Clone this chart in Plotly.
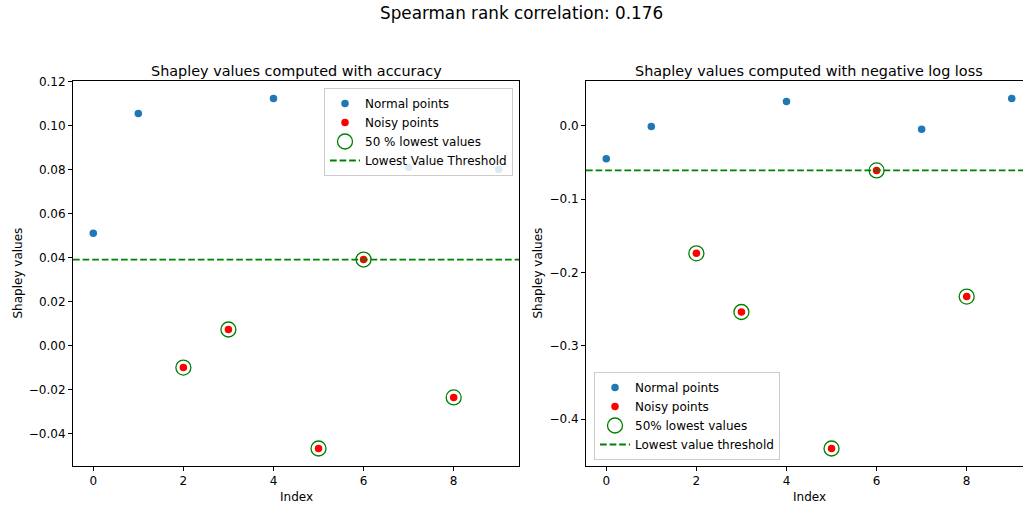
import plotly.graph_objects as go

# ---------------- data ----------------
index = [0, 1, 2, 3, 4, 5, 6, 7, 8, 9]
noisy_idx = [2, 3, 5, 6, 8]
acc_values = [0.051, 0.1055, -0.010, 0.0073, 0.1123, -0.0468, 0.0391, 0.0809, -0.0236, 0.080]
nll_values = [-0.045, -0.001, -0.174, -0.254, 0.033, -0.440, -0.061, -0.005, -0.233, 0.037]
acc_threshold = 0.0391
nll_threshold = -0.061
x_ticks = [0, 2, 4, 6, 8]

suptitle = "Spearman rank correlation: 0.176"
titles = ["Shapley values computed with accuracy", "Shapley values computed with negative log loss"]
legend_labels = [
    ["Normal points", "Noisy points", "50 % lowest values", "Lowest Value Threshold"],
    ["Normal points", "Noisy points", "50% lowest values", "Lowest value threshold"],
]

# ---------------- layout geometry (page pixels) ----------------
PAGE_W, PAGE_H = 1023, 507
W, H = PAGE_W, PAGE_H
L, T, B = 73, 81, 466        # plot area edges in page pixels
PW, PH = PAGE_W - L, B - T
ax_w = 446
left_x0, right_x0 = 73, 586

def px(xp):
    return (xp - L) / PW

def py(yp):
    return (B - yp) / PH

FONT = "DejaVu Sans"
BLUE = "#1f77b4"
RED = "red"
GREEN = "green"
DASH = "6.7px,2.9px"

fig = go.Figure()

def lowest_half(vals):
    order = sorted(range(len(vals)), key=lambda i: vals[i])
    return sorted(order[: len(vals) // 2])

def add_panel(vals, thr, xa, ya, legend, labels):
    normal = [i for i in index if i not in noisy_idx]
    low = lowest_half(vals)
    fig.add_trace(go.Scatter(
        x=normal, y=[vals[i] for i in normal], mode="markers",
        marker=dict(color=BLUE, size=7.5, line=dict(width=0)),
        name=labels[0], xaxis=xa, yaxis=ya, legend=legend))
    fig.add_trace(go.Scatter(
        x=noisy_idx, y=[vals[i] for i in noisy_idx], mode="markers",
        marker=dict(color=RED, size=7.5, line=dict(width=0)),
        name=labels[1], xaxis=xa, yaxis=ya, legend=legend))
    fig.add_trace(go.Scatter(
        x=low, y=[vals[i] for i in low], mode="markers",
        marker=dict(symbol="circle-open", color=GREEN, size=15, line=dict(width=1.3, color=GREEN)),
        name=labels[2], xaxis=xa, yaxis=ya, legend=legend))
    fig.add_trace(go.Scatter(
        x=[None], y=[None], mode="lines",
        line=dict(color=GREEN, width=1.8, dash=DASH),
        name=labels[3], xaxis=xa, yaxis=ya, legend=legend))
    fig.add_shape(type="line", xref=f"{xa} domain", yref=ya,
                  x0=0, x1=1, y0=thr, y1=thr,
                  line=dict(color=GREEN, width=1.8, dash=DASH), layer="above")

add_panel(acc_values, acc_threshold, "x", "y", "legend", legend_labels[0])
add_panel(nll_values, nll_threshold, "x2", "y2", "legend2", legend_labels[1])

def yrange(vals):
    lo, hi = min(vals), max(vals)
    m = 0.05 * (hi - lo)
    return [lo - m, hi + m]

xlo = min(index) - 0.05 * (max(index) - min(index))
xhi = max(index) + 0.05 * (max(index) - min(index))
# right panel is cut by the page edge
right_visible = (PAGE_W - right_x0) / ax_w
xhi_right = xlo + (xhi - xlo) * right_visible

axis_common = dict(
    showgrid=False, zeroline=False, showline=True, linecolor="black", linewidth=1,
    ticks="outside", ticklen=4, tickwidth=1, tickcolor="black",
    tickfont=dict(family=FONT, size=12, color="black"),
)

fig.update_layout(
    width=W, height=H,
    margin=dict(l=L, r=0, t=T, b=PAGE_H - B, pad=0),
    paper_bgcolor="white", plot_bgcolor="white",
    font=dict(family=FONT, size=12, color="black"),
    xaxis=dict(domain=[0, px(left_x0 + ax_w)], range=[xlo, xhi], tickvals=x_ticks,
               mirror=True, anchor="y", **axis_common),
    yaxis=dict(domain=[0, 1], range=yrange(acc_values), dtick=0.02, tick0=0, tickformat=".2f",
               mirror=True, anchor="x", **axis_common),
    xaxis2=dict(domain=[px(right_x0), 1], range=[xlo, xhi_right], tickvals=x_ticks,
                mirror=True, anchor="y2", **axis_common),
    yaxis2=dict(domain=[0, 1], range=yrange(nll_values), dtick=0.1, tick0=0, tickformat=".1f",
                mirror=False, anchor="x2", **axis_common),
    legend=dict(x=px(513), y=py(88), xanchor="right", yanchor="top",
                bgcolor="rgba(255,255,255,0.85)", bordercolor="#cccccc", borderwidth=1,
                font=dict(family=FONT, size=12, color="black")),
    legend2=dict(x=px(594), y=py(460), xanchor="left", yanchor="bottom",
                 bgcolor="rgba(255,255,255,0.85)", bordercolor="#cccccc", borderwidth=1,
                 font=dict(family=FONT, size=12, color="black")),
    showlegend=True,
)

ann = []
ann.append(dict(text=suptitle, x=px(521), y=py(13), xref="paper", yref="paper",
                xanchor="center", yanchor="middle", showarrow=False,
                font=dict(family=FONT, size=16.8, color="black")))
centers = [left_x0 + ax_w / 2, right_x0 + ax_w / 2]
for c, t in zip(centers, titles):
    ann.append(dict(text=t, x=px(c), y=py(71), xref="paper", yref="paper",
                    xanchor="center", yanchor="middle", showarrow=False,
                    font=dict(family=FONT, size=14.4, color="black")))
    ann.append(dict(text="Index", x=px(c), y=py(497), xref="paper", yref="paper",
                    xanchor="center", yanchor="middle", showarrow=False,
                    font=dict(family=FONT, size=12, color="black")))
for xp in [17, 537]:
    ann.append(dict(text="Shapley values", x=px(xp), y=0.5, xref="paper", yref="paper",
                    xanchor="center", yanchor="middle", showarrow=False, textangle=-90,
                    font=dict(family=FONT, size=12, color="black")))
fig.update_layout(annotations=ann)

fig.write_html(
    "out.html",
    config={"displayModeBar": False},
    post_script="document.body.style.margin='0';document.body.style.overflow='hidden';",
)
